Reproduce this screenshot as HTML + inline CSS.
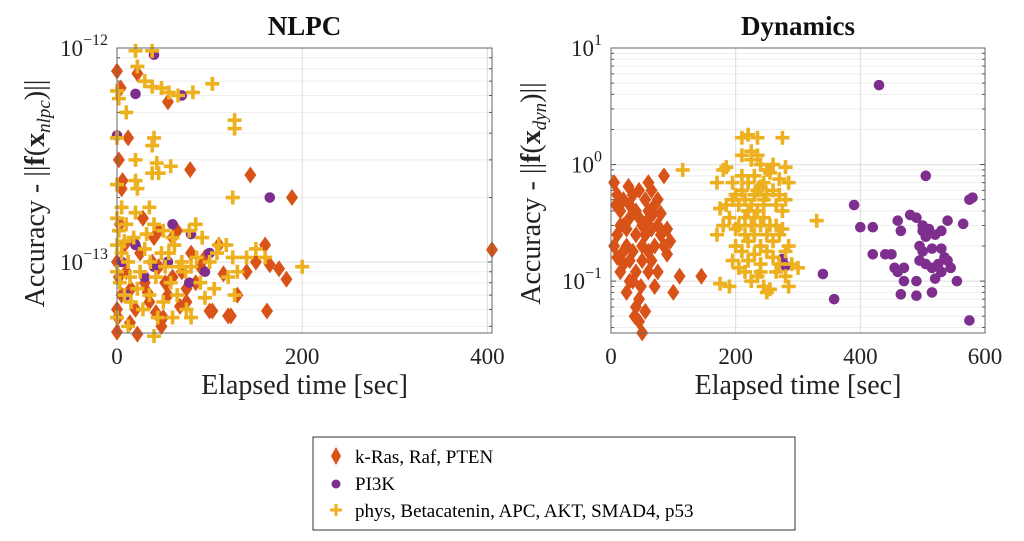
<!DOCTYPE html>
<html><head><meta charset="utf-8">
<style>
html,body{margin:0;padding:0;background:#fff;}
svg{display:block;font-family:"Liberation Serif","DejaVu Serif",serif;}
</style></head>
<body>
<svg id="fig" width="1024" height="541" viewBox="0 0 1024 541" xmlns="http://www.w3.org/2000/svg">
  <rect x="0" y="0" width="1024" height="541" fill="#fff"/>
  <g id="left"></g>
  <g id="right"></g>
  <g>
    <rect x="313" y="437" width="482" height="93" fill="#fff" stroke="#333" stroke-width="1"/>
    <g>
      <path d="M336 447 L341 456 L336 465 L331 456 Z" fill="#D95319"/>
      <text x="355" y="463" font-size="19">k-Ras, Raf, PTEN</text>
    </g>
    <g>
      <circle cx="336" cy="484" r="4.5" fill="#7E2F8E"/>
      <text x="355" y="490" font-size="19">PI3K</text>
    </g>
    <g>
      <path d="M330 510 H342 M336 504 V516" stroke="#EDB120" stroke-width="3"/>
      <text x="355" y="517" font-size="19">phys, Betacatenin, APC, AKT, SMAD4, p53</text>
    </g>
  </g>
</svg>
<script>
// ---- NLPC data (x seconds, y in units of 1e-13) ----
const nlpcKras = [[0,7.8],[22,7.6],[55,5.6],[79,2.7],[144,2.55],[189,2.0],[405,1.14],[0,1.0],[2,0.85],[5,0.7],[8,1.2],[3,1.5],[1,0.55],[0,0.47],[10,0.9],[15,0.75],[20,0.6],[25,1.1],[30,0.8],[35,0.65],[40,1.3],[45,0.95],[50,0.55],[55,0.7],[60,0.85],[65,1.4],[70,0.9],[75,0.75],[80,1.1],[90,0.95],[100,0.59],[110,1.2],[120,0.56],[130,0.7],[160,1.2],[165,0.97],[175,0.93],[183,0.83],[162,0.59],[103,0.59],[123,0.56],[22,0.46],[0,0.6],[12,3.8],[45,1.4],[60,1.3],[75,0.65],[5,2.2],[28,1.6],[38,1.0],[52,0.8],[68,0.62],[85,0.8],[95,1.05],[115,0.88],[140,0.9],[150,1.0],[2,3.0],[4,6.5],[6,2.4],[14,0.52],[18,1.25],[33,0.72],[42,0.58],[48,0.5]];
const nlpcPi3k = [[40,9.3],[20,6.1],[70,6.0],[0,3.9],[165,2.0],[60,1.5],[80,1.35],[40,0.95],[95,0.9],[78,0.8],[100,1.1],[20,1.2],[5,1.0],[30,0.85],[55,1.0],[10,0.7]];
const nlpcPhys = [[20,9.7],[38,9.7],[22,8.2],[30,7.0],[38,6.6],[48,6.5],[56,6.2],[66,6.0],[82,6.2],[103,6.8],[0,6.3],[2,5.8],[10,5.0],[127,4.6],[127,4.2],[0,3.8],[38,3.5],[40,3.8],[20,3.0],[38,2.6],[45,2.6],[58,2.8],[43,2.9],[20,2.4],[0,2.3],[22,2.2],[125,2.0],[0,1.6],[5,1.8],[10,1.5],[20,1.7],[35,1.8],[40,1.5],[50,1.4],[60,1.3],[78,1.4],[85,1.5],[92,1.3],[0,1.2],[5,1.1],[12,1.0],[18,1.3],[25,0.9],[30,1.15],[36,1.0],[42,0.85],[48,1.1],[52,0.95],[58,0.8],[62,1.2],[70,1.0],[74,0.9],[80,0.95],[100,1.0],[108,1.1],[118,1.2],[125,1.05],[130,0.9],[140,1.05],[150,1.15],[160,1.05],[200,0.95],[110,1.2],[120,0.85],[127,0.7],[0,0.9],[3,0.8],[8,0.7],[15,0.65],[22,0.75],[28,0.6],[35,0.7],[44,0.55],[50,0.65],[60,0.55],[75,0.6],[80,0.55],[0,0.55],[12,0.5],[40,0.45],[65,0.7],[90,0.8],[95,0.68],[105,0.75],[2,1.4],[8,1.25],[14,0.85],[32,1.35],[56,1.1],[67,0.95],[86,1.05]];
const nlpcXTicks = [0,200,400];
const nlpcYTickExp = [-13,-12];

// ---- Dynamics data (x seconds, y value) ----
const dynKras = [[5,0.7],[10,0.55],[15,0.4],[20,0.3],[25,0.2],[30,0.15],[35,0.1],[40,0.06],[45,0.045],[50,0.036],[55,0.5],[60,0.7],[65,0.6],[70,0.45],[75,0.3],[80,0.25],[85,0.2],[90,0.17],[95,0.22],[100,0.08],[110,0.11],[145,0.11],[85,0.8],[60,0.4],[50,0.3],[40,0.25],[30,0.35],[20,0.18],[15,0.12],[25,0.08],[35,0.55],[45,0.6],[55,0.25],[65,0.15],[70,0.2],[75,0.12],[80,0.38],[10,0.25],[5,0.2],[20,0.5],[30,0.45],[40,0.4],[50,0.15],[60,0.12],[70,0.09],[45,0.07],[55,0.055],[35,0.18],[25,0.28],[15,0.3],[40,0.12],[50,0.2],[60,0.18],[30,0.1],[20,0.14],[10,0.16],[45,0.35],[65,0.28],[75,0.5],[90,0.28],[8,0.45],[28,0.65],[58,0.33],[68,0.38],[38,0.05],[48,0.09]];
const dynPi3k = [[430,4.8],[505,0.8],[390,0.45],[575,0.5],[580,0.52],[480,0.37],[490,0.35],[500,0.3],[510,0.28],[540,0.33],[565,0.31],[460,0.33],[465,0.27],[400,0.29],[420,0.29],[500,0.27],[505,0.24],[530,0.27],[520,0.25],[495,0.2],[500,0.18],[515,0.19],[530,0.19],[420,0.17],[440,0.17],[450,0.17],[535,0.16],[540,0.15],[495,0.15],[505,0.14],[525,0.14],[545,0.13],[455,0.13],[460,0.12],[470,0.13],[515,0.13],[530,0.12],[490,0.1],[520,0.105],[470,0.1],[555,0.1],[465,0.077],[490,0.075],[515,0.08],[340,0.115],[358,0.07],[575,0.046],[275,0.155],[280,0.135]];
const dynPhys = [[115,0.9],[330,0.33],[170,0.7],[180,0.9],[185,0.95],[200,0.55],[210,1.7],[220,1.8],[235,1.7],[275,1.7],[210,1.2],[225,1.1],[240,1.0],[250,0.9],[280,0.95],[285,0.7],[175,0.42],[185,0.45],[195,0.5],[170,0.25],[180,0.3],[200,0.28],[215,0.35],[225,0.3],[235,0.4],[245,0.35],[255,0.3],[265,0.45],[275,0.4],[280,0.5],[210,0.6],[220,0.7],[230,0.8],[240,0.65],[250,0.55],[260,0.6],[270,0.75],[205,0.45],[215,0.5],[230,0.55],[245,0.7],[255,0.85],[200,0.2],[210,0.18],[220,0.22],[230,0.25],[240,0.2],[250,0.18],[260,0.22],[270,0.25],[285,0.2],[290,0.14],[300,0.13],[195,0.15],[205,0.13],[215,0.12],[225,0.1],[235,0.11],[245,0.09],[250,0.08],[255,0.085],[265,0.12],[285,0.09],[175,0.095],[190,0.09],[220,0.15],[230,0.17],[240,0.14],[260,0.16],[270,0.14],[280,0.11],[205,0.3],[215,0.25],[225,0.45],[235,0.6],[245,0.5],[265,0.3],[275,0.28],[190,0.35],[225,1.3],[235,1.2],[245,0.45],[240,0.3],[230,0.35],[220,0.4],[210,0.8],[260,1.0],[270,0.55],[250,0.25],[280,0.18],[195,0.7],[240,0.12]];
const dynXTicks = [0,200,400,600];
const dynYTickExp = [-1,0,1];

const NS = "http://www.w3.org/2000/svg";
function mk(tag, attrs, parent){ const e=document.createElementNS(NS,tag); for(const k in attrs) e.setAttribute(k,attrs[k]); parent.appendChild(e); return e; }

function panel(g, cfg){
  const {L,R,T,B,xmin,xmax,lmin,lmax,scale} = cfg;
  const sx = x => L + (x-xmin)/(xmax-xmin)*(R-L);
  const sy = v => B - (Math.log10(v*scale)-lmin)/(lmax-lmin)*(B-T);
  const grid = mk('g',{},g);
  
  
  for(let d=Math.floor(lmin); d<=Math.ceil(lmax); d++){
    for(let m=1;m<10;m++){
      const lv = d+Math.log10(m);
      if(lv<lmin-1e-9||lv>lmax+1e-9) continue;
      const y = B-(lv-lmin)/(lmax-lmin)*(B-T);
      mk('line',{x1:L,x2:R,y1:y,y2:y,stroke: m===1?'#dcdcdc':'#eeeeee','stroke-width':1},grid);
      mk('line',{x1:L,x2:L+(m===1?5:3),y1:y,y2:y,stroke:'#555','stroke-width':1},grid);
      mk('line',{x1:R,x2:R-(m===1?5:3),y1:y,y2:y,stroke:'#555','stroke-width':1},grid);
    }
  }
  cfg.xticks.forEach(t=>{
    const x=sx(t);
    mk('line',{x1:x,x2:x,y1:T,y2:B,stroke:'#dcdcdc','stroke-width':1},grid);
    const lb = mk('text',{x:x,y:B+31,'font-size':23,'text-anchor':'middle',fill:'#222'},g);
    lb.textContent = t;
    
    
  });
  cfg.yexp.forEach(e=>{
    const y = B-(e-lmin)/(lmax-lmin)*(B-T);
    const lb = mk('text',{x:L-9,y:y+8,'font-size':23,'text-anchor':'end',fill:'#222'},g);
    const t1 = mk('tspan',{},lb); t1.textContent='10';
    const t2 = mk('tspan',{dy:-11,'font-size':16},lb); t2.textContent = (e<0?'\u2212':'')+Math.abs(e);
    
    
  });
  const marks = mk('g',{},g);
  
  
  cfg.kras.forEach(p=>{
    const x=sx(p[0]), y=sy(p[1]);
    const d = mk('path',{d:`M${x} ${y-8.5} L${x+6} ${y} L${x} ${y+8.5} L${x-6} ${y} Z`,fill:'#D95319'},marks);
    
    
  });
  cfg.pi3k.forEach(p=>{
    const c = mk('circle',{cx:sx(p[0]),cy:sy(p[1]),r:5.3,fill:'#7E2F8E'},marks);
    
    
  });
  cfg.phys.forEach(p=>{
    const x=sx(p[0]), y=sy(p[1]);
    const pl = mk('path',{d:`M${x-7} ${y} H${x+7} M${x} ${y-7} V${y+7}`,stroke:'#EDB120','stroke-width':3.6},marks);
    
    
  });
  const box = mk('rect',{x:L,y:T,width:R-L,height:B-T,fill:'none',stroke:'#666','stroke-width':1},g);
  
  
  const ti = mk('text',{x:(L+R)/2,y:35,'font-size':27,'font-weight':'bold','text-anchor':'middle',fill:'#111'},g);
  ti.textContent = cfg.title;
  
  
  const xl = mk('text',{x:(L+R)/2,y:394,'font-size':28,'text-anchor':'middle',fill:'#222'},g);
  xl.textContent = 'Elapsed time [sec]';
  
  
  const yl = mk('text',{x:0,y:0,'font-size':28,'text-anchor':'middle',fill:'#222',transform:`translate(${cfg.ylx},${(T+B)/2+3}) rotate(-90)`},g);
  const a = mk('tspan',{},yl); a.textContent='Accuracy - ||';
  const b = mk('tspan',{'font-weight':'bold'},yl); b.textContent='f';
  const c = mk('tspan',{},yl); c.textContent='(';
  const dd = mk('tspan',{'font-weight':'bold'},yl); dd.textContent='x';
  const s = mk('tspan',{dy:6,'font-size':19,'font-style':'italic'},yl); s.textContent=cfg.sub;
  const e2 = mk('tspan',{dy:-6},yl); e2.textContent=')||';
  
  
}

panel(document.getElementById('left'),{L:117,R:492,T:48,B:333,xmin:0,xmax:405,lmin:-13.332,lmax:-12,scale:1e-13,
  xticks:nlpcXTicks,yexp:nlpcYTickExp,kras:nlpcKras,pi3k:nlpcPi3k,phys:nlpcPhys,title:'NLPC',sub:'nlpc',ylx:44});
panel(document.getElementById('right'),{L:611,R:985,T:48,B:333,xmin:0,xmax:600,lmin:-1.445,lmax:1,scale:1,
  xticks:dynXTicks,yexp:dynYTickExp,kras:dynKras,pi3k:dynPi3k,phys:dynPhys,title:'Dynamics',sub:'dyn',ylx:540});
</script>
</body></html>
